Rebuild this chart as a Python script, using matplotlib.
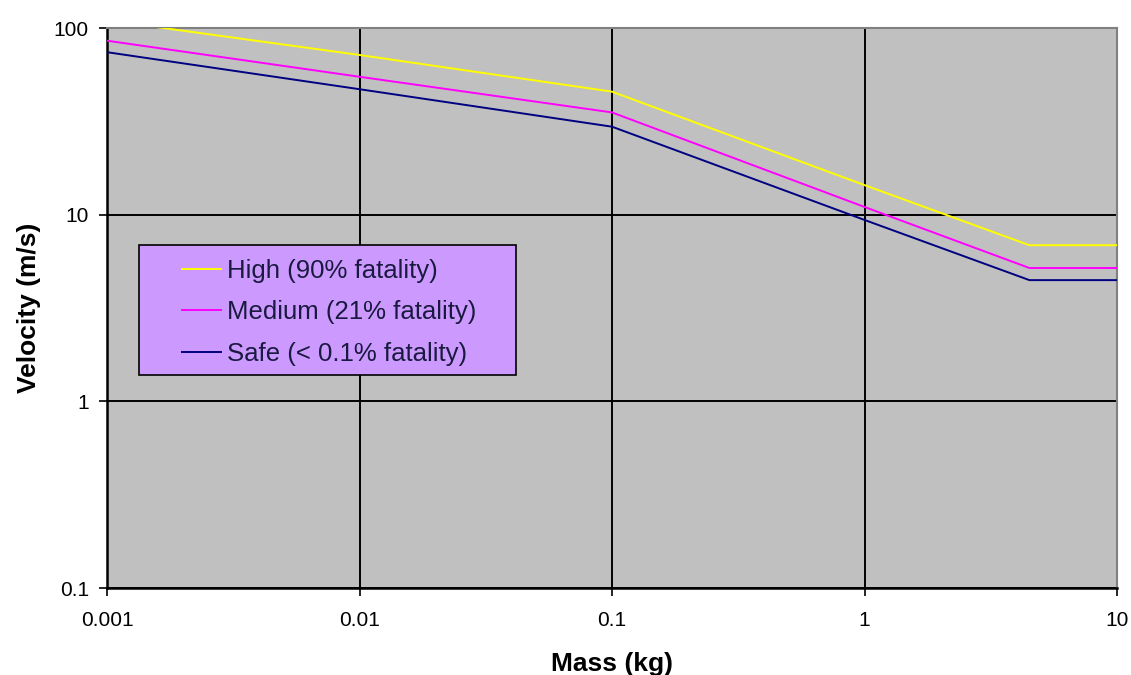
import matplotlib
matplotlib.use("Agg")
import matplotlib.pyplot as plt
from matplotlib.patches import Rectangle
from matplotlib.ticker import FixedLocator, FixedFormatter, NullLocator

plt.rcParams['font.family'] = ['Liberation Sans', 'DejaVu Sans']

mass = [0.001, 0.01, 0.1, 1, 4.5, 10]
high = [110, 71.7, 45.6, 14.4, 6.86, 6.86]
medium = [85.5, 54.8, 35.3, 11.0, 5.18, 5.18]
safe = [74.2, 47.0, 29.6, 9.37, 4.46, 4.46]
labels = ['High (90% fatality)', 'Medium (21% fatality)', 'Safe (< 0.1% fatality)']
xticks = [0.001, 0.01, 0.1, 1, 10]
xticklabels = ['0.001', '0.01', '0.1', '1', '10']
yticks = [0.1, 1, 10, 100]
yticklabels = ['0.1', '1', '10', '100']

fig = plt.figure(figsize=(11.31, 6.75), dpi=100)
ax = fig.add_axes([107/1131, 1-588/675, 1010/1131, 560/675])
ax.set_facecolor('#C0C0C0')
ax.set_xscale('log')
ax.set_yscale('log')
ax.set_xlim(0.001, 10)
ax.set_ylim(0.1, 100)

ax.plot(mass, high, color='#FFFF00', lw=1.4, label=labels[0], zorder=3)
ax.plot(mass, medium, color='#FF00FF', lw=1.4, label=labels[1], zorder=3)
ax.plot(mass, safe, color='#000080', lw=1.4, label=labels[2], zorder=3)

ax.xaxis.set_major_locator(FixedLocator(xticks))
ax.xaxis.set_major_formatter(FixedFormatter(xticklabels))
ax.yaxis.set_major_locator(FixedLocator(yticks))
ax.yaxis.set_major_formatter(FixedFormatter(yticklabels))
ax.xaxis.set_minor_locator(NullLocator())
ax.yaxis.set_minor_locator(NullLocator())
ax.grid(True, which='major', color='black', lw=1.4, zorder=1)
ax.set_axisbelow(True)
ax.tick_params(axis='both', direction='out', length=6, width=1.2, labelsize=15, color='black')
ax.tick_params(axis='x', pad=10.5)
ax.tick_params(axis='y', pad=7)

for s in ['top', 'right']:
    ax.spines[s].set_color('#808080')
    ax.spines[s].set_linewidth(1.5)
for s in ['left', 'bottom']:
    ax.spines[s].set_color('black')
    ax.spines[s].set_linewidth(1.8)

ax.set_xlabel('Mass (kg)', fontsize=19, fontweight='bold', labelpad=16)
ax.set_ylabel('Velocity (m/s)', fontsize=19, fontweight='bold', labelpad=9)

ax.add_patch(Rectangle((32/1010, 213/560), 377/1010, 130/560, transform=ax.transAxes,
                       facecolor='#CC99FF', edgecolor='black', lw=1.2, zorder=5))
leg = ax.legend(loc='upper left', bbox_to_anchor=(75/1010, (588-259)/560), frameon=False,
                fontsize=18.5, borderpad=0, handlelength=1.52, handletextpad=0.23,
                labelspacing=0.68, borderaxespad=0)
leg.set_zorder(6)
for t in leg.get_texts():
    t.set_color('#1a1a40')

fig.savefig('out.png', dpi=100)
